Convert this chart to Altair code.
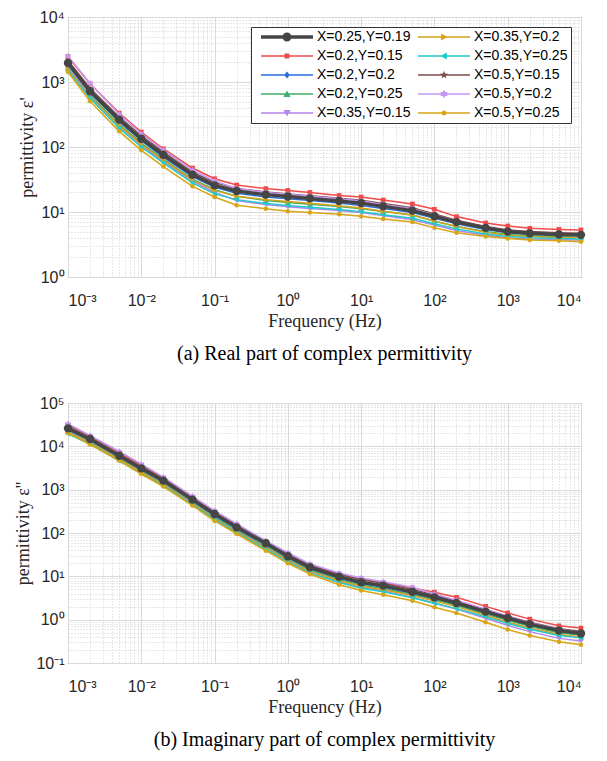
import math
import altair as alt
import pandas as pd

# ---------------- data ----------------
FREQ = [0.001, 0.002, 0.005, 0.01, 0.02, 0.05, 0.1, 0.2, 0.5, 1, 2, 5, 10, 20, 50,
        100, 200, 500, 1000, 2000, 5000, 10000]

SERIES = ["X=0.25,Y=0.19", "X=0.2,Y=0.15", "X=0.2,Y=0.2", "X=0.2,Y=0.25",
          "X=0.35,Y=0.15", "X=0.35,Y=0.2", "X=0.35,Y=0.25", "X=0.5,Y=0.15",
          "X=0.5,Y=0.2", "X=0.5,Y=0.25"]

COLORS = ["#454545", "#f24a4a", "#2b6fde", "#3fae6a", "#b585ea",
          "#d6a21a", "#22c9c9", "#7e4e4e", "#c596f2", "#d9a514"]

# real part  (epsilon')
REAL_X025_Y019 = [1960, 720, 264, 134, 76, 37.5, 25.7, 21, 18.5, 17.3, 16.2, 14.8, 13.7, 12.2, 10.5, 8.6, 7.0, 5.7, 5.0, 4.7, 4.5, 4.45]
REAL_X02_Y015 = [2450, 940, 333, 170, 94, 47.5, 32.5, 26, 22.9, 21.5, 20, 18, 17, 15.3, 13.3, 11.0, 8.5, 6.8, 6.1, 5.6, 5.4, 5.3]
REAL_X02_Y02 = [1800, 680, 245, 125, 70, 35, 24, 19.5, 17.0, 16.0, 15.0, 13.7, 12.6, 11.3, 9.8, 8.0, 6.6, 5.4, 4.8, 4.5, 4.35, 4.3]
REAL_X02_Y025 = [1650, 620, 225, 115, 65, 32, 22, 17.5, 15.0, 14.0, 13.2, 12.2, 11.2, 10.2, 9.0, 7.2, 6.0, 5.0, 4.5, 4.3, 4.15, 4.1]
REAL_X035_Y015 = [1700, 600, 210, 105, 60, 30, 20, 15, 13, 12, 11.3, 10.5, 9.8, 8.8, 7.6, 6.3, 5.2, 4.4, 4.0, 3.85, 3.75, 3.7]
REAL_X035_Y02 = [1600, 580, 215, 110, 63, 31, 21.5, 17.5, 15.5, 14.5, 13.6, 12.5, 11.5, 10.3, 9.0, 7.3, 6.0, 4.9, 4.4, 4.2, 4.05, 4.0]
REAL_X035_Y025 = [1500, 560, 195, 100, 57, 28, 19, 15.5, 13.5, 12.6, 11.8, 10.9, 10.1, 9.1, 8.0, 6.6, 5.5, 4.6, 4.2, 4.0, 3.9, 3.85]
REAL_X05_Y015 = [2150, 800, 290, 148, 84, 41, 28.5, 23, 20.3, 19, 17.8, 16.3, 15.1, 13.5, 11.6, 9.3, 7.5, 6.0, 5.3, 5.0, 4.8, 4.7]
REAL_X05_Y02 = [2500, 950, 320, 160, 90, 44, 30, 23, 20, 18.8, 17.5, 16, 14.8, 13, 11.2, 9.0, 7.2, 5.8, 5.1, 4.8, 4.6, 4.5]
REAL_X05_Y025 = [1420, 505, 174, 89, 50, 24.8, 17, 12.7, 11.2, 10.3, 9.8, 9.2, 8.6, 7.8, 7.0, 5.7, 4.8, 4.2, 3.9, 3.7, 3.6, 3.5]

# imaginary part  (epsilon'')
IMAG_X025_Y019 = [26000, 14800, 6080, 3100, 1620, 590, 275, 135, 58, 29, 16.2, 9.8, 7.3, 6.1, 4.4, 3.28, 2.43, 1.53, 1.09, 0.79, 0.56, 0.48]
IMAG_X02_Y015 = [30000, 16500, 7000, 3500, 1800, 660, 305, 150, 63, 32, 18, 11, 8.6, 7.2, 5.4, 4.3, 3.28, 2.03, 1.43, 1.03, 0.72, 0.64]
IMAG_X02_Y02 = [24000, 13800, 5700, 2900, 1500, 550, 255, 125, 53, 27, 15, 9.0, 6.7, 5.6, 4.0, 3.0, 2.2, 1.4, 1.0, 0.72, 0.52, 0.45]
IMAG_X02_Y025 = [22500, 13000, 5300, 2700, 1400, 510, 235, 115, 49, 25, 14, 8.4, 6.3, 5.2, 3.8, 2.9, 2.15, 1.35, 0.97, 0.7, 0.5, 0.44]
IMAG_X035_Y015 = [21500, 12200, 5000, 2550, 1320, 480, 220, 108, 46, 23.5, 13.2, 7.6, 5.6, 4.6, 3.3, 2.4, 1.75, 1.07, 0.74, 0.53, 0.37, 0.32]
IMAG_X035_Y02 = [21000, 12000, 4900, 2500, 1300, 470, 215, 106, 45, 23, 13, 7.9, 5.9, 4.9, 3.6, 2.7, 2.0, 1.25, 0.88, 0.64, 0.46, 0.4]
IMAG_X035_Y025 = [19500, 11200, 4600, 2350, 1220, 445, 205, 100, 42, 21.5, 12, 7.2, 5.3, 4.4, 3.2, 2.4, 1.8, 1.15, 0.82, 0.6, 0.43, 0.38]
IMAG_X05_Y015 = [32000, 17500, 7400, 3800, 1900, 690, 320, 158, 65, 34, 18.5, 11.3, 8.4, 6.9, 5.0, 3.7, 2.7, 1.7, 1.2, 0.87, 0.62, 0.53]
IMAG_X05_Y02 = [33000, 17600, 7600, 3900, 1950, 700, 325, 162, 66, 35, 19.3, 11.9, 9.2, 7.5, 5.6, 3.9, 2.8, 1.75, 1.2, 0.85, 0.6, 0.5]
IMAG_X05_Y025 = [20400, 11000, 4700, 2300, 1180, 430, 190, 96, 39, 20, 11.3, 6.4, 4.7, 3.77, 2.74, 1.93, 1.43, 0.87, 0.59, 0.43, 0.31, 0.265]

REAL = [REAL_X025_Y019, REAL_X02_Y015, REAL_X02_Y02, REAL_X02_Y025, REAL_X035_Y015,
        REAL_X035_Y02, REAL_X035_Y025, REAL_X05_Y015, REAL_X05_Y02, REAL_X05_Y025]
IMAG = [IMAG_X025_Y019, IMAG_X02_Y015, IMAG_X02_Y02, IMAG_X02_Y025, IMAG_X035_Y015,
        IMAG_X035_Y02, IMAG_X035_Y025, IMAG_X05_Y015, IMAG_X05_Y02, IMAG_X05_Y025]

# ---------------- styling ----------------
SANS = "Liberation Sans"
SERIF = "Liberation Serif"
TXT = "#262626"

MARKERS = ["circle", "square", "diamond", "triangle-up", "triangle-down",
           "triangle-right", "triangle-left", "star", "hexagram", "dot"]
LINE_W = [3.5] + [1.5] * 9
PT_SIZE = [70, 22, 32, 32, 32, 32, 32, 45, 45, 20]
LEG_R = [4.5, 2.5, 3.6, 3.6, 3.6, 3.6, 3.6, 4.2, 4.2, 2.5]


def unit_poly(kind):
    if kind == "square":
        return [(-1, -1), (1, -1), (1, 1), (-1, 1)]
    if kind == "diamond":
        return [(0, -1), (0.8, 0), (0, 1), (-0.8, 0)]
    if kind == "triangle-up":
        return [(0, -1), (1, 0.8), (-1, 0.8)]
    if kind == "triangle-down":
        return [(0, 1), (-1, -0.8), (1, -0.8)]
    if kind == "triangle-right":
        return [(1, 0), (-0.8, 1), (-0.8, -1)]
    if kind == "triangle-left":
        return [(-1, 0), (0.8, -1), (0.8, 1)]
    if kind == "star":
        pts = []
        for k in range(10):
            a = math.radians(-90 + 36 * k)
            r = 1.0 if k % 2 == 0 else 0.42
            pts.append((r * math.cos(a), r * math.sin(a)))
        return pts
    return None


def poly_d(pts, s=1.0):
    return "M" + "L".join(f"{x * s:.2f},{y * s:.2f}" for x, y in pts) + "Z"


def circle_d(r):
    return f"M{r},0A{r},{r},0,1,1,{-r},0A{r},{r},0,1,1,{r},0Z"


def hexagram_d(s):
    up = [(0, -1), (0.866, 0.5), (-0.866, 0.5)]
    dn = [(0, 1), (-0.866, -0.5), (0.866, -0.5)]
    return poly_d(up, s) + poly_d(dn, s)


def plot_shape(kind):
    if kind in ("circle", "dot"):
        return "circle"
    if kind == "star":
        return poly_d(unit_poly("star"))
    if kind == "hexagram":
        return hexagram_d(1.0)
    return kind


def legend_shape(kind, r, lw):
    half = lw / 2.0
    d = f"M-26,{-half}H26V{half}H-26Z"
    if kind in ("circle", "dot"):
        d += circle_d(r)
    elif kind == "hexagram":
        d += hexagram_d(r)
    else:
        d += poly_d(unit_poly(kind), r)
    return d


SUPS = {"-": "\u207b", "0": "\u2070", "1": "\u00b9", "2": "\u00b2", "3": "\u00b3",
        "4": "\u2074", "5": "\u2075", "6": "\u2076", "7": "\u2077", "8": "\u2078", "9": "\u2079"}


def sup(n):
    return "".join(SUPS[c] for c in str(n))


def log_axis(lo, hi, title, label_pad, title_pad):
    majors = [10.0 ** e for e in range(lo, hi + 1)]
    minors = [m * 10.0 ** e for e in range(lo, hi) for m in range(2, 10)]
    e = "round(log(datum.value)/LN10)"
    is_major = f"abs(log(datum.value)/LN10 - {e}) < 0.001"
    chain = "''"
    for k in range(lo, hi + 1):
        chain = f"({e} == {k} ? '10{sup(k)}' : {chain})"
    return alt.Axis(
        values=majors + minors,
        labelExpr=f"{is_major} ? {chain} : ''",
        labelOverlap=False,
        labelFont=SANS, labelFontSize=16, labelColor=TXT,
        labelPadding=label_pad,
        grid=True,
        gridColor={"condition": {"test": is_major, "value": "#d9d9d9"}, "value": "#cfcfcf"},
        gridDash={"condition": {"test": is_major, "value": []}, "value": [1, 2]},
        gridWidth=1,
        ticks=False, tickSize=0, domain=False,
        title=title, titleFont=SERIF, titleFontSize=18, titleFontWeight="normal",
        titleColor=TXT, titlePadding=title_pad,
    )


def panel(values, ylo, yhi, ytitle, caption):
    frames = []
    for i, name in enumerate(SERIES):
        frames.append(pd.DataFrame({"f": FREQ, "v": values[i], "s": name}))

    x = alt.X("f:Q", scale=alt.Scale(type="log", domain=[1e-3, 1e4], nice=False),
              axis=log_axis(-3, 4, "Frequency (Hz)", 15, 4))
    y = alt.Y("v:Q", scale=alt.Scale(type="log", domain=[10.0 ** ylo, 10.0 ** yhi], nice=False),
              axis=log_axis(ylo, yhi, ytitle, 4, 3))

    leg = alt.Legend(
        title=None, orient="top-right", offset=10, columns=2,
        symbolSize=4, symbolStrokeWidth=0, symbolOpacity=1,
        symbolOffset=26, labelOffset=23,
        labelFont=SANS, labelFontSize=14, labelColor="#000", labelLimit=300,
        padding=3, rowPadding=5, columnPadding=0,
        strokeColor="#333333", fillColor="white", cornerRadius=0,
    )
    # legend-only layer: one invisible point in the middle of the plot
    key_row = pd.DataFrame({"f": [FREQ[9]], "v": [values[0][9]], "s": [SERIES[0]]})
    legend_layer = alt.Chart(key_row).mark_point(filled=True, opacity=0, size=1, clip=True).encode(
        x=x, y=y,
        color=alt.Color("s:N", scale=alt.Scale(domain=SERIES, range=COLORS), legend=leg),
        shape=alt.Shape("s:N", scale=alt.Scale(domain=SERIES, range=[legend_shape(MARKERS[i], LEG_R[i], LINE_W[i]) for i in range(10)]), legend=leg),
    )

    layers = [legend_layer]
    for i in list(range(1, 10)) + [0]:
        layers.append(
            alt.Chart(frames[i]).mark_line(
                color=COLORS[i], strokeWidth=LINE_W[i],
                point=alt.OverlayMarkDef(shape=plot_shape(MARKERS[i]), size=PT_SIZE[i],
                                         filled=True, color=COLORS[i], opacity=1),
            ).encode(x=x, y=y)
        )
    return alt.layer(*layers).properties(
        width=513, height=260,
        title=alt.TitleParams(caption, orient="bottom", font=SERIF, fontSize=20,
                              fontWeight="normal", color="#000", offset=14,
                              anchor="middle", frame="group"),
    )


top = panel(REAL, 0, 4, "permittivity \u03b5'", "(a) Real part of complex permittivity")
bottom = panel(IMAG, -1, 5, "permittivity \u03b5''", "(b) Imaginary part of complex permittivity")

chart = alt.vconcat(top, bottom, spacing=29).properties(
    padding={"left": 6, "top": 0, "right": 2, "bottom": 0}
).configure_view(stroke="#555555", strokeWidth=1)

chart.save("out.html", embed_options={"renderer": "svg", "actions": False})
